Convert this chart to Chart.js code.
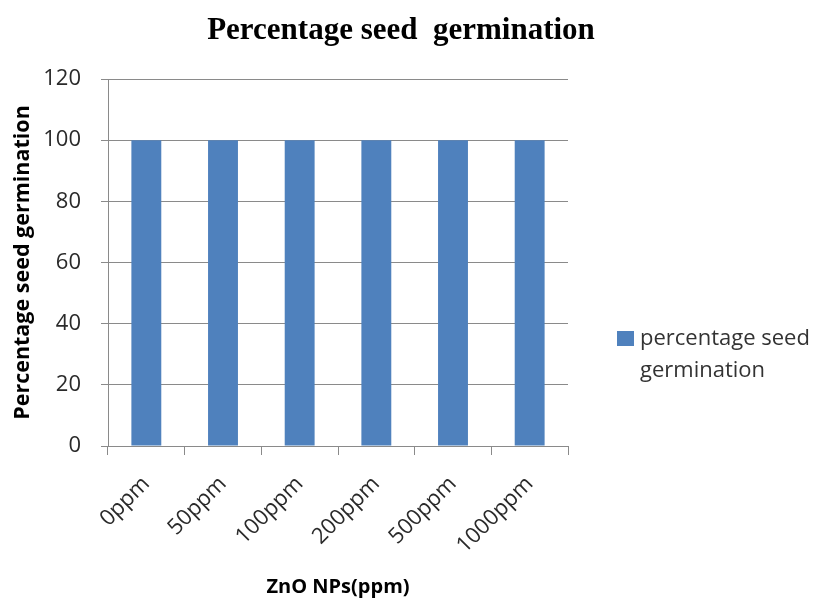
<!DOCTYPE html>
<html>
<head>
<meta charset="utf-8">
<script src="https://cdn.jsdelivr.net/npm/chart.js@4.4.0/dist/chart.umd.min.js"></script>
<style>
  html, body { margin: 0; padding: 0; background: #fff; }
  #wrap { width: 821px; height: 599px; position: relative; }
</style>
</head>
<body>
<div id="wrap"><canvas id="myChart"></canvas></div>
<script>
    // data
    let categories = ['0ppm', '50ppm', '100ppm', '200ppm', '500ppm', '1000ppm'];
    let germination = [100, 100, 100, 100, 100, 100];
    let seriesName = 'percentage seed germination';
    let legendLines = ['percentage seed', 'germination'];
    let chartTitle = 'Percentage seed  germination';
    let yTitle = 'Percentage seed germination';
    let xTitle = 'ZnO NPs(ppm)';
    let yMin = 0, yMax = 120, yStep = 20;

    let gridColor = '#8a8a8a';
    let barColor = '#4F81BD';

    // title and two-line legend drawn by hand
    let extras = {
        id: 'extras',
        afterDraw(chart) {
            let c = chart.ctx;
            c.save();
            c.fillStyle = '#000';
            c.font = 'bold 31px "Liberation Serif"';
            c.textAlign = 'center';
            c.textBaseline = 'alphabetic';
            c.fillText(chartTitle, 401, 39);

            c.fillStyle = barColor;
            c.fillRect(617, 331, 17, 15);
            c.fillStyle = '#333';
            c.font = '22px "Open Sans"';
            c.textAlign = 'left';
            c.textBaseline = 'middle';
            legendLines.forEach((t, i) => c.fillText(t, 640, 339 + i * 32));
            c.restore();
        }
    };

    let ctx = document.getElementById('myChart').getContext('2d');

    let barChart = new Chart(ctx, {
    type: 'bar',
    data: {
    labels: categories,
    datasets: [{
    label: seriesName,
    data: germination,
    backgroundColor: barColor,
    categoryPercentage: 1,
    barPercentage: 0.39
    }]
    },
    options: {
    responsive: true,
    maintainAspectRatio: false,
    animation: false,
    layout: { padding: { top: 79, right: 253, left: 0, bottom: 0 } },
    plugins: {
        legend: { display: false },
        title: { display: false },
        tooltip: { enabled: false }
    },
    scales: {
        x: {
            offset: true,
            grid: { display: true, drawOnChartArea: false, drawTicks: true, tickLength: 9, color: gridColor },
            border: { display: true, color: gridColor },
            ticks: { color: '#2a2a2a', font: { family: 'Open Sans', size: 22 }, minRotation: 45, maxRotation: 45, padding: 16 },
            title: { display: true, text: xTitle, color: '#000', font: { family: 'Open Sans', size: 20, weight: 'bold' }, padding: { top: 8, bottom: 0 } },
            afterFit(scale) { scale.height = 153; }
        },
        y: {
            min: yMin,
            max: yMax,
            grid: { color: gridColor, tickLength: 7 },
            border: { display: true, color: gridColor },
            ticks: { stepSize: yStep, color: '#2a2a2a', font: { family: 'Open Sans', size: 22 }, padding: 20 },
            title: { display: true, text: yTitle, color: '#000', font: { family: 'Open Sans', size: 21.5, weight: 'bold' }, padding: { top: 10, bottom: 0 } },
            afterFit(scale) { scale.width = 108; }
        }
    }
    },
    plugins: [extras]
    });
</script>
</body>
</html>
